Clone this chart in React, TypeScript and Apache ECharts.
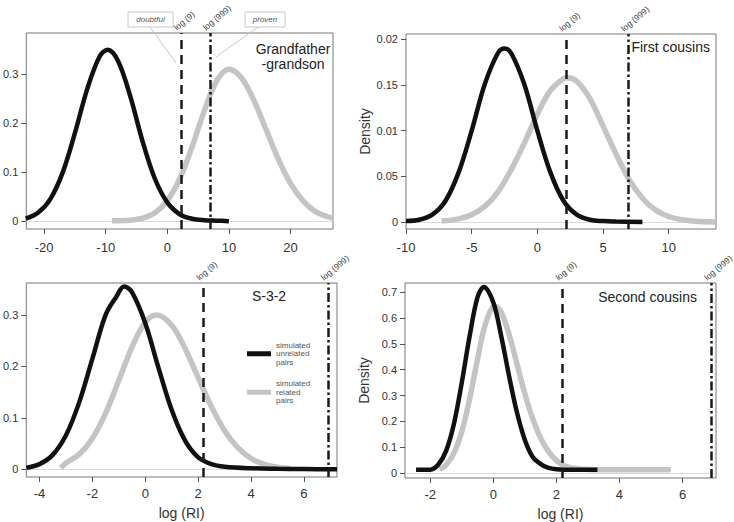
import React, { useEffect, useRef } from "react";
import * as echarts from "echarts";

// ---------- data ----------
const BLACK_NAME = "simulated unrelated pairs";
const GRAY_NAME = "simulated related pairs";
const LOG9 = 2.197;
const LOG999 = 6.907;

// Grandfather-grandson
const gfBlackX = [-23, -21, -19, -17, -15, -13, -11, -9.7, -8, -6, -4, -2, 0, 2, 4, 6, 8, 10];
const gfBlackY = [0.005, 0.017, 0.045, 0.099, 0.18, 0.27, 0.336, 0.35, 0.327, 0.254, 0.162, 0.086, 0.038, 0.014, 0.005, 0.002, 0.001, 0.0];
const gfGrayX = [-9, -6, -4, -2, 0, 2, 4, 6, 8, 10, 12, 14, 16, 18, 20, 22, 24, 26, 27];
const gfGrayY = [0.001, 0.002, 0.006, 0.017, 0.042, 0.086, 0.151, 0.225, 0.286, 0.31, 0.293, 0.248, 0.188, 0.127, 0.077, 0.042, 0.02, 0.009, 0.006];

// First cousins
const fcBlackX = [-10, -9, -8, -7, -6, -5, -4, -3, -2.5, -2, -1, 0, 1, 2, 3, 4, 5, 6, 8];
const fcBlackY = [0.001, 0.0024, 0.008, 0.023, 0.054, 0.1, 0.151, 0.185, 0.19, 0.185, 0.151, 0.1, 0.054, 0.023, 0.008, 0.0024, 0.001, 0.0005, 0.0];
const fcGrayX = [-7.3, -6, -5, -4, -3, -2, -1, 0, 1, 2, 2.3, 3, 4, 5, 6, 7, 8, 9, 10, 11, 12, 13.6];
const fcGrayY = [0.001, 0.0034, 0.008, 0.017, 0.033, 0.057, 0.086, 0.118, 0.144, 0.157, 0.158, 0.154, 0.135, 0.105, 0.074, 0.046, 0.026, 0.013, 0.006, 0.0024, 0.0008, 0.0];

// S-3-2
const sBlackX = [-4.5, -4, -3.5, -3, -2.5, -2, -1.5, -1.1, -0.8, -0.5, 0, 0.5, 1, 1.5, 2, 2.5, 3, 4, 5, 6, 7.25];
const sBlackY = [0.003, 0.01, 0.028, 0.066, 0.13, 0.215, 0.3, 0.335, 0.355, 0.344, 0.284, 0.197, 0.115, 0.056, 0.023, 0.01, 0.005, 0.002, 0.001, 0.0005, 0.0];
const sGrayX = [-3.2, -3, -2.5, -2, -1.5, -1, -0.5, 0, 0.42, 1, 1.5, 2, 2.5, 3, 3.5, 4, 4.5, 5, 5.5];
const sGrayY = [0.003, 0.012, 0.029, 0.06, 0.109, 0.173, 0.238, 0.286, 0.3, 0.28, 0.235, 0.178, 0.122, 0.075, 0.042, 0.021, 0.0095, 0.004, 0.0015];

// Second cousins
const scBlackX = [-2.45, -2, -1.75, -1.5, -1.25, -1, -0.75, -0.5, -0.3, 0, 0.25, 0.5, 0.75, 1, 1.25, 1.5, 1.75, 2, 2.5, 3.3];
const scBlackY = [0.013, 0.013, 0.032, 0.085, 0.19, 0.35, 0.53, 0.68, 0.72, 0.66, 0.53, 0.375, 0.234, 0.128, 0.062, 0.035, 0.02, 0.015, 0.013, 0.013];
const scGrayX = [-1.7, -1.5, -1.25, -1, -0.75, -0.5, -0.25, 0.05, 0.25, 0.5, 0.75, 1, 1.25, 1.5, 1.75, 2, 2.25, 2.5, 3, 3.5, 5.63];
const scGrayY = [0.013, 0.031, 0.077, 0.16, 0.288, 0.44, 0.576, 0.645, 0.622, 0.536, 0.422, 0.307, 0.21, 0.135, 0.083, 0.049, 0.028, 0.02, 0.014, 0.013, 0.013];

// ticks
const gfXTicks = [-20, -10, 0, 10, 20];
const gfYTicks = [0, 0.1, 0.2, 0.3];
const fcXTicks = [-10, -5, 0, 5, 10];
const fcYTicks = [0, 0.05, 0.1, 0.15, 0.2];
const fcYTickLabels = ["0", "0.05", "0.01", "0.15", "0.02"];
const sXTicks = [-4, -2, 0, 2, 4, 6];
const sYTicks = [0, 0.1, 0.2, 0.3];
const scXTicks = [-2, 0, 2, 4, 6];
const scYTicks = [0, 0.1, 0.2, 0.3, 0.4, 0.5, 0.6, 0.7];

const panelTitles = ["Grandfather\n-grandson", "First cousins", "S-3-2", "Second cousins"];

const FONT = "Liberation Sans, Arial, Helvetica, sans-serif";

const zip = (xs: number[], ys: number[]) => xs.map((x, i) => [x, ys[i]]);

export default function App() {
  const ref = useRef<HTMLDivElement>(null);

  useEffect(() => {
    const chart = echarts.init(ref.current!, null, { renderer: "svg" });

    const grids = [
      { left: 24, top: 33, width: 309, height: 196 },
      { left: 406, top: 34, width: 310, height: 195 },
      { left: 25, top: 283, width: 312, height: 194 },
      { left: 405, top: 283, width: 311, height: 195 },
    ];
    const xr = [
      { min: -22.9, max: 26.9, ticks: gfXTicks },
      { min: -10, max: 13.6, ticks: fcXTicks },
      { min: -4.5, max: 7.25, ticks: sXTicks },
      { min: -2.8, max: 7.06, ticks: scXTicks },
    ];
    const yr = [
      { min: -0.016, max: 0.384, ticks: gfYTicks },
      { min: -0.0077, max: 0.2058, ticks: fcYTicks },
      { min: -0.015, max: 0.362, ticks: sYTicks },
      { min: -0.019, max: 0.735, ticks: scYTicks },
    ];
    const blacks = [zip(gfBlackX, gfBlackY), zip(fcBlackX, fcBlackY), zip(sBlackX, sBlackY), zip(scBlackX, scBlackY)];
    const grays = [zip(gfGrayX, gfGrayY), zip(fcGrayX, fcGrayY), zip(sGrayX, sGrayY), zip(scGrayX, scGrayY)];

    const xAxis = xr.map((a, i) => ({
      type: "value",
      gridIndex: i,
      position: "bottom",
      min: a.min,
      max: a.max,
      axisLine: { show: false, onZero: false },
      splitLine: { show: false },
      axisTick: { show: true, customValues: a.ticks, length: 5, lineStyle: { color: "#555" } },
      axisLabel: { customValues: a.ticks, fontSize: 13, color: "#333", fontFamily: FONT, margin: i < 2 ? 12 : 10 },
      name: i >= 2 ? "log (RI)" : "",
      nameLocation: "middle",
      nameGap: 29,
      nameTextStyle: { fontSize: 14, color: "#333", fontFamily: FONT },
    }));
    const yAxis = yr.map((a, i) => ({
      type: "value",
      gridIndex: i,
      position: "left",
      min: a.min,
      max: a.max,
      axisLine: { show: false, onZero: false },
      splitLine: { show: false },
      axisTick: { show: true, customValues: a.ticks, length: 5, lineStyle: { color: "#555" } },
      axisLabel: {
        customValues: a.ticks,
        fontSize: 11,
        color: "#333",
        fontFamily: FONT,
        margin: 8,
        formatter: (v: number) => {
          if (i === 1) {
            const k = fcYTicks.findIndex((t) => Math.abs(t - v) < 1e-9);
            return k >= 0 ? fcYTickLabels[k] : "";
          }
          return String(Math.round(v * 10) / 10);
        },
      },
      name: i % 2 === 1 ? "Density" : "",
      nameLocation: "middle",
      nameGap: 34,
      nameTextStyle: { fontSize: 14, color: "#333", fontFamily: FONT },
    }));

    const series: any[] = [];
    for (let i = 0; i < 4; i++) {
      series.push({
        type: "line",
        name: GRAY_NAME,
        xAxisIndex: i,
        yAxisIndex: i,
        data: grays[i],
        smooth: 0.35,
        showSymbol: false,
        symbol: "none",
        color: "#c4c4c4",
        itemStyle: { color: "#c4c4c4" },
        lineStyle: { color: "#c4c4c4", width: 5.5 },
        z: 2,
        markLine: {
          silent: true,
          symbol: ["none", "none"],
          label: { show: false },
          data: [{ yAxis: 0, lineStyle: { color: "#dadada", width: 1, type: "solid" } }],
          z: 1,
        },
      });
      series.push({
        type: "line",
        name: BLACK_NAME,
        xAxisIndex: i,
        yAxisIndex: i,
        data: blacks[i],
        smooth: 0.35,
        showSymbol: false,
        symbol: "none",
        color: "#111",
        itemStyle: { color: "#111" },
        lineStyle: { color: "#111", width: 4.5 },
        z: 3,
        markLine: {
          silent: true,
          symbol: ["none", "none"],
          label: { show: false },
          data: [
            { xAxis: LOG9, lineStyle: { color: "#1a1a1a", width: 2.5, type: [9, 6] } },
            { xAxis: LOG999, lineStyle: { color: "#1a1a1a", width: 2.5, type: [9, 3, 2.5, 3] } },
          ],
          z: 4,
        },
      });
    }

    chart.setOption({
      animation: false,
      backgroundColor: "#fff",
      textStyle: { fontFamily: FONT },
      grid: grids.map((g) => ({ ...g, show: true, borderColor: "#777", borderWidth: 1, backgroundColor: "transparent" })),
      xAxis,
      yAxis,
      legend: {
        data: [BLACK_NAME, GRAY_NAME],
        orient: "vertical",
        left: 242,
        top: 336,
        itemWidth: 24,
        itemHeight: 5,
        itemGap: 13,
        icon: "rect",
        selectedMode: false,
        inactiveColor: "#555",
        textStyle: { fontSize: 8, lineHeight: 8.5, color: "#555555", fontFamily: FONT },
        formatter: (n: string) => n.split(" ").join("\n"),
      },
      series,
    });

    const rot = (40 * Math.PI) / 180;
    const graphics: any[] = [];
    for (let i = 0; i < 4; i++) {
      const top = grids[i].top;
      [LOG9, LOG999].forEach((v, k) => {
        const px = chart.convertToPixel({ xAxisIndex: i }, v) as number;
        graphics.push({
          type: "text",
          x: px - 3,
          y: top - 1,
          rotation: rot,
          style: {
            text: k === 0 ? "log (9)" : "log (999)",
            fontSize: 8.5,
            fontFamily: FONT,
            fill: "#444",
            align: "left",
            verticalAlign: "bottom",
            textAlign: "left",
            textVerticalAlign: "bottom",
          },
        });
      });
    }
    // panel titles
    const titlePos = [
      { x: 293, y: 56, align: "center" },
      { x: 710, y: 47, align: "right" },
      { x: 269, y: 296, align: "center" },
      { x: 697, y: 297, align: "right" },
    ];
    titlePos.forEach((p, i) => {
      graphics.push({
        type: "text",
        x: p.x,
        y: p.y,
        style: {
          text: panelTitles[i],
          fontSize: 14,
          lineHeight: 15,
          fontFamily: FONT,
          fill: "#222",
          align: p.align,
          verticalAlign: "middle",
          textAlign: p.align,
          textVerticalAlign: "middle",
        },
      });
    });
    // doubtful / proven boxes with leaders
    const boxes = [
      { x: 128, y: 12, w: 45, h: 15, text: "doubtful", lx1: 150, ly1: 27, lx2: 176, ly2: 63 },
      { x: 245, y: 12, w: 40, h: 15, text: "proven", lx1: 258, ly1: 27, lx2: 216, ly2: 57 },
    ];
    boxes.forEach((b) => {
      graphics.push({
        type: "line",
        shape: { x1: b.lx1, y1: b.ly1, x2: b.lx2, y2: b.ly2 },
        style: { stroke: "#c8c8c8", lineWidth: 1 },
      });
      graphics.push({
        type: "rect",
        shape: { x: b.x, y: b.y, width: b.w, height: b.h },
        style: { fill: "#fff", stroke: "#c8c8c8", lineWidth: 1 },
      });
      graphics.push({
        type: "text",
        x: b.x + b.w / 2,
        y: b.y + b.h / 2,
        style: {
          text: b.text,
          fontSize: 8,
          fontStyle: "italic",
          fontFamily: FONT,
          fill: "#555",
          align: "center",
          verticalAlign: "middle",
          textAlign: "center",
          textVerticalAlign: "middle",
        },
      });
    });

    chart.setOption({ graphic: graphics });

    return () => chart.dispose();
  }, []);

  return (
    <div
      ref={ref}
      style={{ position: "fixed", left: 0, top: 0, width: 734, height: 522, background: "#fff" }}
    />
  );
}
